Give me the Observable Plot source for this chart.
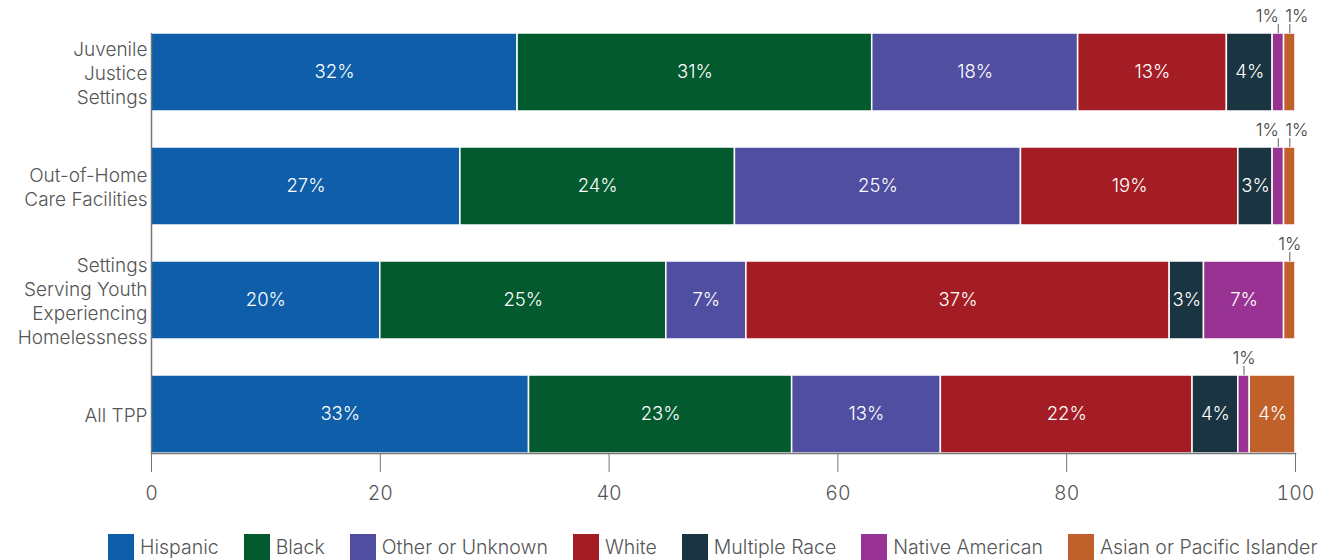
<!DOCTYPE html>
<html><head><meta charset="utf-8">
<script src="https://cdn.jsdelivr.net/npm/d3@7"></script>
<script src="https://cdn.jsdelivr.net/npm/@observablehq/plot@0.6"></script>
<style>
body{margin:0;background:#fff;font-family:Inter,sans-serif;}
#legend{display:flex;align-items:center;height:26px;padding-top:4px;padding-left:108px;font-size:19.5px;font-weight:300;color:#555;white-space:nowrap;}
.item{display:flex;align-items:center;margin-right:25px;}
.sw{width:26px;height:26px;margin-right:6px;}
svg text{font-weight:300;}
</style></head><body><div id="chart"></div><div id="legend"></div>
<script>
// Data
const settings = ["Juvenile\nJustice\nSettings", "Out-of-Home\nCare Facilities", "Settings\nServing Youth\nExperiencing\nHomelessness", "All TPP"];
const groups = ["Hispanic", "Black", "Other or Unknown", "White", "Multiple Race", "Native American", "Asian or Pacific Islander"];
const groupColors = ["#0e5ea9", "#045a2f", "#504ea1", "#a51d24", "#1a3441", "#993393", "#c0602b"];
const hispanic = [32, 27, 20, 33];
const black = [31, 24, 25, 23];
const otherUnknown = [18, 25, 7, 13];
const white = [13, 19, 37, 22];
const multipleRace = [4, 3, 3, 4];
const nativeAmerican = [1, 1, 7, 1];
const asianPacific = [1, 1, 1, 4];
const xTicks = [0, 20, 40, 60, 80, 100];

const series = [hispanic, black, otherUnknown, white, multipleRace, nativeAmerican, asianPacific];

// Build stacked rows
const rows = [];
settings.forEach((s, i) => {
  let acc = 0;
  const segs = [];
  groups.forEach((g, j) => {
    const v = series[j][i];
    segs.push({setting: s, group: g, value: v, x1: acc, x2: acc + v, small: v <= 1});
    acc += v;
  });
  segs.forEach((d, k) => {
    const prevSmall = k > 0 && segs[k - 1].small;
    const nextSmall = k < segs.length - 1 && segs[k + 1].small;
    d.nudge = !d.small ? 0 : (nextSmall ? -1 : (prevSmall ? 1 : 0));
    rows.push(d);
  });
});
const big = rows.filter(d => !d.small);
const small = rows.filter(d => d.small);
const mid = d => (d.x1 + d.x2) / 2;
const label = d => d.value + "%";
const BW = 77; // approx band width in px for annotation offsets

const chart = Plot.plot({
  width: 1331,
  height: 530,
  marginLeft: 151,
  marginRight: 36,
  marginTop: 33,
  marginBottom: 77,
  style: {fontFamily: "Inter, sans-serif", background: "#fff"},
  x: {domain: [0, 100], ticks: xTicks},
  y: {domain: settings, paddingInner: 0.32, paddingOuter: 0},
  color: {domain: groups, range: groupColors},
  marks: [
    Plot.barX(rows, {x1: "x1", x2: "x2", y: "setting", fill: "group", stroke: "#fff", strokeWidth: 1.5}),
    Plot.text(big, {x: mid, y: "setting", text: label, fill: "#fff", fontSize: 18.5}),
    Plot.tickX(small, {x: mid, y: "setting", stroke: "#777", strokeWidth: 1.2, dy: -9, insetBottom: BW - 8}),
    Plot.text(small.filter(d => d.nudge === 0), {x: mid, y: "setting", text: label, fill: "#444", fontSize: 17.5, dy: -BW / 2 - 18}),
    Plot.text(small.filter(d => d.nudge === -1), {x: mid, y: "setting", text: label, fill: "#444", fontSize: 17.5, dy: -BW / 2 - 18, dx: -11}),
    Plot.text(small.filter(d => d.nudge === 1), {x: mid, y: "setting", text: label, fill: "#444", fontSize: 17.5, dy: -BW / 2 - 18, dx: 7}),
    Plot.ruleX([0], {stroke: "#777", strokeWidth: 1.5}),
    Plot.frame({anchor: "bottom", stroke: "#777", strokeWidth: 1.5}),
    Plot.axisX({ticks: xTicks, tickSize: 19, tickPadding: 14, fontSize: 19.5, color: "#555", stroke: "#777", label: null}),
    Plot.axisY({tickSize: 0, tickPadding: 4, fontSize: 19, lineHeight: 1.263, color: "#555", label: null})
  ]
});
document.getElementById("chart").appendChild(chart);

const legend = document.getElementById("legend");
groups.forEach((g, j) => {
  const it = document.createElement("div");
  it.className = "item";
  const sw = document.createElement("div");
  sw.className = "sw";
  sw.style.background = groupColors[j];
  const t = document.createElement("span");
  t.textContent = g;
  it.appendChild(sw); it.appendChild(t);
  legend.appendChild(it);
});
</script></body></html>
